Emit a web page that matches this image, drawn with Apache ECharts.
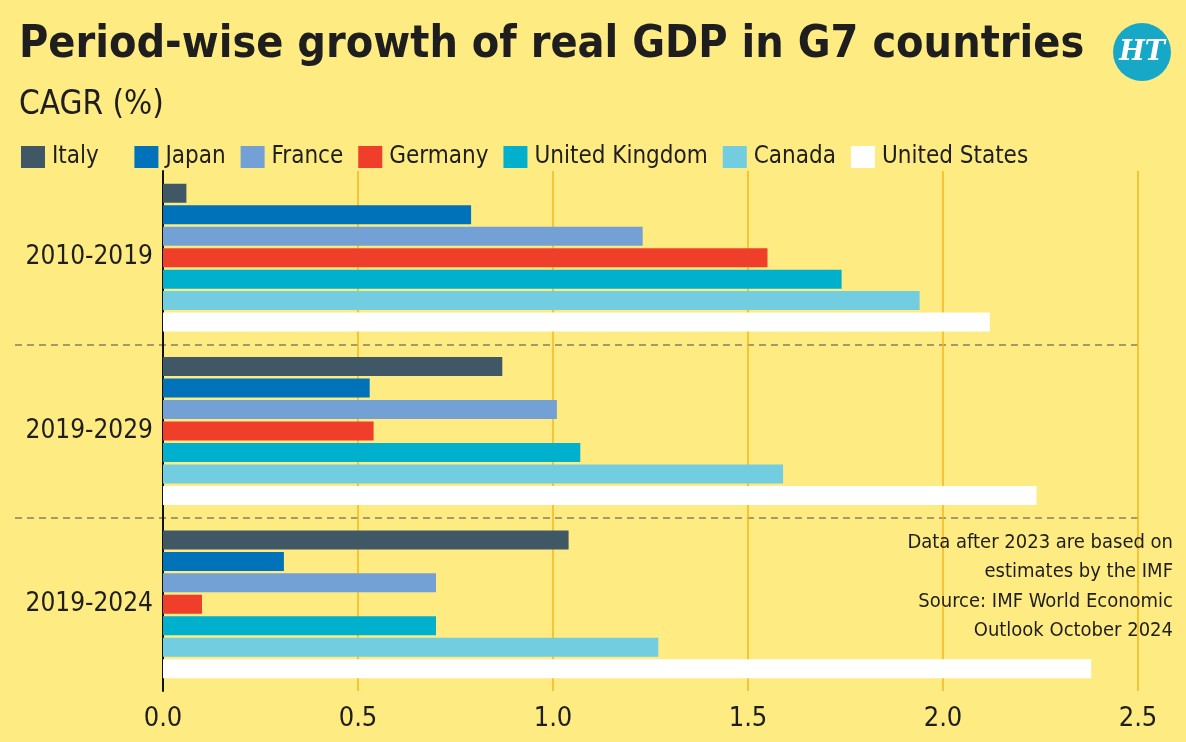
<!DOCTYPE html>
<html>
<head>
<meta charset="utf-8">
<script src="https://cdn.jsdelivr.net/npm/echarts@6/dist/echarts.min.js"></script>
<style>
  html, body { margin: 0; padding: 0; background: #feeb82; }
  #chart-container { width: 1186px; height: 742px; }
</style>
</head>
<body>
<div id="chart-container"></div>
<script>
var dom = document.getElementById('chart-container');
var myChart = echarts.init(dom, null, { renderer: 'canvas' });

var FONT = '"Liberation Sans Narrow", "DejaVu Sans Condensed", "Open Sans", sans-serif';

// periods shown on the y axis, top to bottom
var periods = ['2010-2019', '2019-2029', '2019-2024'];
var countries = ['Italy', 'Japan', 'France', 'Germany', 'United Kingdom', 'Canada', 'United States'];
var colors = ['#405866', '#0072b9', '#74a1d5', '#ef3f2b', '#00b0cc', '#72cde0', '#ffffff'];

// CAGR (%) per country, in the order of periods
var italy = [0.06, 0.87, 1.04];
var japan = [0.79, 0.53, 0.31];
var france = [1.23, 1.01, 0.70];
var germany = [1.55, 0.54, 0.10];
var uk = [1.74, 1.07, 0.70];
var canada = [1.94, 1.59, 1.27];
var us = [2.12, 2.24, 2.38];
var values = [italy, japan, france, germany, uk, canada, us];

var xTicks = [0, 0.5, 1, 1.5, 2, 2.5];

var note = 'Data after 2023 are based on\nestimates by the IMF\nSource: IMF World Economic\nOutlook October 2024';

var series = countries.map(function (name, i) {
  return {
    name: name,
    type: 'bar',
    xAxisIndex: 0,
    yAxisIndex: 0,
    data: values[i],
    barWidth: 19,
    barGap: '13%',
    itemStyle: { color: colors[i] },
    emphasis: { disabled: true }
  };
});

var option = {
  backgroundColor: '#feeb82',
  animation: false,
  color: colors,
  title: {
    text: 'Period-wise growth of real GDP in G7 countries',
    subtext: 'CAGR (%)',
    left: 14,
    top: 18,
    itemGap: 21,
    textStyle: { fontFamily: FONT, fontWeight: 'bold', fontSize: 44.5, color: '#1e1e1e' },
    subtextStyle: { fontFamily: FONT, fontSize: 33, color: '#1e1e1e' }
  },
  legend: {
    data: countries,
    left: 16,
    top: 140,
    itemWidth: 24,
    itemHeight: 22,
    itemGap: 15,
    icon: 'rect',
    selectedMode: false,
    // extra room after Italy, as in the original
    formatter: function (name) { return name === 'Italy' ? name + '   ' : name; },
    textStyle: { fontFamily: FONT, fontSize: 24, color: '#1e1e1e', padding: [0, 0, 0, 2] }
  },
  grid: [
    { left: 163, right: 48, top: 171, height: 520 },
    { left: 15, right: 48, top: 171, height: 520 }
  ],
  xAxis: [
    {
      type: 'value',
      gridIndex: 0,
      min: 0,
      max: 2.5,
      interval: 0.5,
      axisLine: { show: false },
      axisTick: { show: false },
      splitLine: { show: true, lineStyle: { color: '#f4b61e', width: 1.5 } },
      axisLabel: {
        fontFamily: FONT,
        fontSize: 27,
        color: '#1e1e1e',
        margin: 14,
        formatter: function (v) { return xTicks.indexOf(v) >= 0 ? v.toFixed(1) : ''; }
      }
    },
    { type: 'value', gridIndex: 1, show: false, min: 0, max: 1 }
  ],
  yAxis: [
    {
      type: 'category',
      gridIndex: 0,
      data: periods,
      inverse: true,
      axisLine: { show: true, lineStyle: { color: '#111', width: 2 } },
      axisTick: { show: false },
      splitLine: { show: false },
      axisLabel: { fontFamily: FONT, fontSize: 26, color: '#1e1e1e', margin: 10 }
    },
    {
      type: 'category',
      gridIndex: 1,
      data: periods,
      inverse: true,
      axisLine: { show: false },
      axisTick: { show: false },
      axisLabel: { show: false },
      splitLine: {
        show: true,
        showMinLine: false,
        showMaxLine: false,
        lineStyle: { color: '#858166', width: 1.5, type: [7, 5] }
      }
    }
  ],
  graphic: [
    {
      type: 'group',
      right: 15,
      top: 23,
      children: [
        { type: 'circle', shape: { cx: 29, cy: 29, r: 29 }, style: { fill: '#17a8c8' } },
        {
          type: 'text',
          x: 29,
          y: 30,
          style: {
            text: 'HT',
            fill: '#ffffff',
            font: 'bold italic 27px "DejaVu Serif", "Liberation Serif", serif',
            align: 'center',
            verticalAlign: 'middle'
          }
        }
      ]
    },
    {
      type: 'text',
      right: 13,
      top: 528,
      z: 10,
      style: {
        text: note,
        fill: '#1e1e1e',
        font: '20px ' + FONT,
        textAlign: 'right',
        lineHeight: 29.5
      }
    }
  ],
  series: series
};

myChart.setOption(option);
window.addEventListener('resize', myChart.resize);
</script>
</body>
</html>
